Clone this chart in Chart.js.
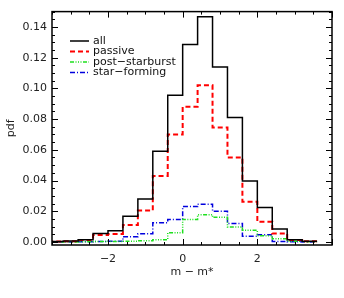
<!DOCTYPE html>
<html>
<head>
<meta charset="utf-8">
<script src="https://cdn.jsdelivr.net/npm/chart.js@4.4.1/dist/chart.umd.min.js"></script>
<style>
  html, body { margin: 0; padding: 0; background: #fff; }
  #wrap { width: 344px; height: 298px; }
</style>
</head>
<body>
<div id="wrap"><canvas id="pdfChart" width="344" height="298"></canvas></div>
<script>
// histogram bin edges (m - m*) and pdf per bin
const binEdges = [-3.6, -3.2, -2.8, -2.4, -2.0, -1.6, -1.2, -0.8, -0.4, 0.0,
                  0.4, 0.8, 1.2, 1.6, 2.0, 2.4, 2.8, 3.2, 3.6];
const allPdf = [0.0003, 0.0006, 0.0015, 0.0055, 0.0073, 0.0167, 0.028, 0.059, 0.0956,
                0.1286, 0.1467, 0.114, 0.081, 0.0397, 0.0224, 0.0085, 0.0014, 0.0004];
const passivePdf = [0.0002, 0.0005, 0.0013, 0.0045, 0.0052, 0.011, 0.0205, 0.043, 0.070,
                    0.088, 0.102, 0.0745, 0.055, 0.0262, 0.0131, 0.0055, 0.0012, 0.0004];
const postStarburstPdf = [0, 0, 0.0001, 0.0002, 0.0003, 0.0005, 0.0008, 0.0015, 0.006,
                          0.0146, 0.0177, 0.016, 0.0097, 0.0076, 0.004, 0.002, 0.0004, 0.0001];
const starFormingPdf = [0, 0, 0.0001, 0.0002, 0.0004, 0.0034, 0.0053, 0.0125, 0.0146,
                        0.023, 0.0245, 0.020, 0.012, 0.0037, 0.0047, 0.0003, 0.0001, 0];
const seriesLabels = ['all', 'passive', 'post\u2212starburst', 'star\u2212forming'];
const xTickValues = [-2, 0, 2];
const yTickValues = [0, 0.02, 0.04, 0.06, 0.08, 0.10, 0.12, 0.14];

const FONT = '"DejaVu Sans", sans-serif';

function histPoints(vals) {
    // one point per left edge, plus the closing right edge
    var pts = [{x: binEdges[0], y: vals[0]}];
    for (var i = 0; i < vals.length; i++) {
        pts.push({x: binEdges[i + 1], y: vals[i]});
    }
    return pts;
}

function makeSet(label, vals, color, width, dash) {
    return {
        label: label,
        data: histPoints(vals),
        borderColor: color,
        borderWidth: width,
        borderDash: dash,
        stepped: 'after',
        pointRadius: 0,
        fill: false
    };
}

// IDL style frame with inward ticks on all four sides
const frameTicks = {
    id: 'frameTicks',
    afterDatasetsDraw(chart) {
        const ctx = chart.ctx;
        const a = chart.chartArea;
        const xs = chart.scales.x, ys = chart.scales.y;
        ctx.save();
        ctx.strokeStyle = '#000';
        ctx.lineWidth = 1.5;
        ctx.strokeRect(a.left, a.top, a.right - a.left, a.bottom - a.top);
        ctx.lineWidth = 1;
        ctx.beginPath();
        for (let v = -3.5; v <= 4.001; v += 0.5) {
            const px = Math.round(xs.getPixelForValue(v)) + 0.5;
            const major = Math.abs(v % 2) < 1e-6;
            const len = major ? 6 : 3;
            ctx.moveTo(px, a.bottom); ctx.lineTo(px, a.bottom - len);
            ctx.moveTo(px, a.top); ctx.lineTo(px, a.top + len);
        }
        for (let k = 0; k <= 30; k++) {
            const v = k * 0.005;
            const py = Math.round(ys.getPixelForValue(v)) + 0.5;
            if (py < a.top) continue;
            const len = (k % 4 === 0) ? 6 : 3;
            ctx.moveTo(a.left, py); ctx.lineTo(a.left + len, py);
            ctx.moveTo(a.right, py); ctx.lineTo(a.right - len, py);
        }
        ctx.stroke();
        ctx.restore();
    },
    afterDraw(chart) {
        // legend inside the plot, top left
        const ctx = chart.ctx;
        ctx.save();
        ctx.font = '11px ' + FONT;
        ctx.textBaseline = 'middle';
        chart.data.datasets.forEach(function(ds, i) {
            const y = 41 + i * 10.5;
            ctx.strokeStyle = ds.borderColor;
            ctx.lineWidth = ds.borderWidth;
            ctx.setLineDash(ds.borderDash);
            ctx.beginPath();
            ctx.moveTo(70, y); ctx.lineTo(89, y);
            ctx.stroke();
            ctx.setLineDash([]);
            ctx.fillStyle = '#111';
            ctx.fillText(ds.label, 93, y);
        });
        ctx.restore();
    }
};

new Chart(document.getElementById('pdfChart'), {
    type: 'line',
    data: {
        datasets: [
            makeSet(seriesLabels[0], allPdf, '#000000', 1.5, []),
            makeSet(seriesLabels[1], passivePdf, '#ff0000', 2, [5, 3]),
            makeSet(seriesLabels[2], postStarburstPdf, '#1ee01e', 1.5, [4, 1.5, 1, 1.5, 1, 1.5, 1, 1.5]),
            makeSet(seriesLabels[3], starFormingPdf, '#0000dd', 1.5, [5, 2, 1, 2])
        ]
    },
    options: {
        responsive: false,
        animation: false,
        layout: { padding: { left: 0, top: 5, right: 12, bottom: 19 } },
        plugins: { legend: { display: false }, tooltip: { enabled: false } },
        scales: {
            x: {
                type: 'linear',
                min: -3.5,
                max: 4,
                afterBuildTicks: function(s) { s.ticks = xTickValues.map(v => ({value: v})); },
                afterFit: function(s) { s.height = 34; },
                grid: { display: false, drawTicks: false },
                border: { display: false },
                ticks: {
                    padding: 8,
                    maxRotation: 0,
                    color: '#222',
                    font: { family: FONT, size: 11 },
                    callback: v => (v < 0 ? '\u2212' + Math.abs(v) : String(v))
                },
                title: {
                    display: true,
                    text: 'm \u2212 m*',
                    color: '#222',
                    font: { family: FONT, size: 11 },
                    padding: { top: 0, bottom: 0 }
                }
            },
            y: {
                min: -0.002,
                max: 0.15,
                afterBuildTicks: function(s) { s.ticks = yTickValues.map(v => ({value: v})); },
                afterFit: function(s) { s.width = 52; },
                grid: { display: false, drawTicks: false },
                border: { display: false },
                ticks: {
                    padding: 5,
                    color: '#222',
                    font: { family: FONT, size: 11 },
                    callback: v => v.toFixed(2)
                },
                title: {
                    display: true,
                    text: 'pdf',
                    color: '#222',
                    font: { family: FONT, size: 11 },
                    padding: { top: 5, bottom: 0 }
                }
            }
        }
    },
    plugins: [frameTicks]
});
</script>
</body>
</html>
